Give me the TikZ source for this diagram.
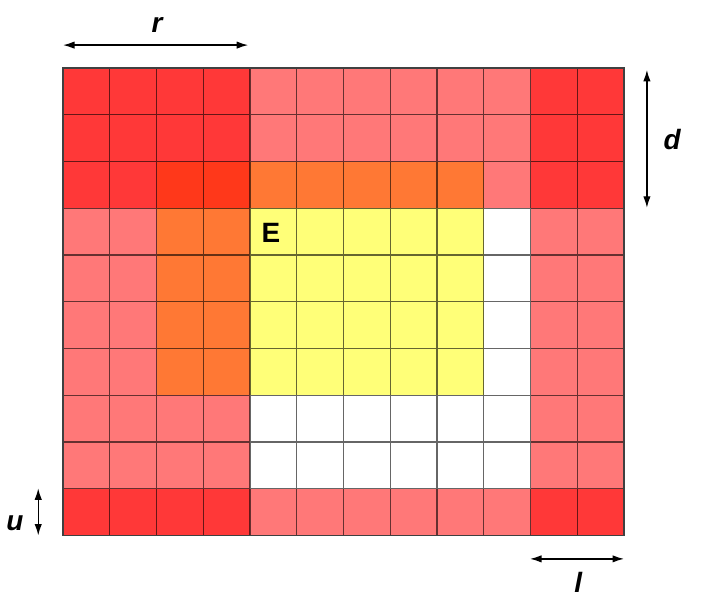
\documentclass[tikz,border=0pt]{standalone}
\usepackage{fontspec}
\newfontfamily\lblfont{Liberation Sans}
\usepackage{tikz}
\usetikzlibrary{arrows.meta}

\definecolor{cellred}{HTML}{FF3838}
\definecolor{cellpink}{HTML}{FF7878}
\definecolor{cellorange}{HTML}{FF7834}
\definecolor{celldark}{HTML}{FF381A}
\definecolor{cellyellow}{HTML}{FFFF78}

\tikzset{
    lbl/.style={font=\lblfont\fontsize{17}{20}\selectfont\bfseries\itshape},
    dim/.style={{Latex[length=7pt,width=4.5pt]}-{Latex[length=7pt,width=4.5pt]}, line width=0.8pt}
}

\begin{document}
\begin{tikzpicture}
        \useasboundingbox (-1.348,1.455) rectangle (13.925,-11.551);
        \fill[cellpink] (0,0) rectangle (12,-10);
        \fill[cellred] (0,0) rectangle (4,-2);
        \fill[cellred] (0,-2) rectangle (2,-3);
        \fill[cellred] (10,0) rectangle (12,-3);
        \fill[cellred] (0,-9) rectangle (4,-10);
        \fill[cellred] (10,-9) rectangle (12,-10);
        \fill[celldark] (2,-2) rectangle (4,-3);
        \fill[cellorange] (4,-2) rectangle (9,-3);
        \fill[cellorange] (2,-3) rectangle (4,-7);
        \fill[cellyellow] (4,-3) rectangle (9,-7);
        \fill[white] (9,-3) rectangle (10,-9);
        \fill[white] (4,-7) rectangle (9,-9);
        \draw[black, draw opacity=0.6, line width=0.75pt] (0,-10) grid[step=1] (12,0);
        \draw[black!75, line width=0.8pt] (0,0) rectangle (12,-10);
        \node[lbl, font=\lblfont\fontsize{17}{20}\selectfont\bfseries] (e) at (4.45,-3.53) {E};
        % dimension arrows
        \coordinate (r1) at (0,0.49);
        \coordinate (r2) at (3.96,0.49);
        \draw[dim] (r1) -- (r2);
        \node[lbl] (rlabel) at (2.01,0.92) {r};
        \coordinate (d1) at (12.49,-0.04);
        \coordinate (d2) at (12.49,-2.99);
        \draw[dim] (d1) -- (d2);
        \node[lbl] (dlabel) at (13.03,-1.54) {d};
        \coordinate (u1) at (-0.53,-8.99);
        \coordinate (u2) at (-0.53,-10);
        \draw[dim] (u1) -- (u2);
        \node[lbl] (ulabel) at (-1.03,-9.73) {u};
        \coordinate (l1) at (9.99,-10.5);
        \coordinate (l2) at (12,-10.5);
        \draw[dim] (l1) -- (l2);
        \node[lbl] (llabel) at (11.02,-11.0) {l};
\end{tikzpicture}
\end{document}
